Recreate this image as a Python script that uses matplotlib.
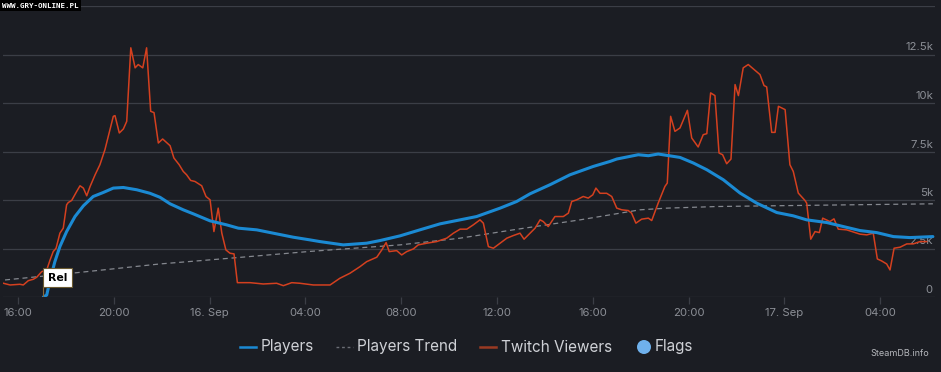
import matplotlib
matplotlib.use("Agg")
import matplotlib.pyplot as plt
from matplotlib.lines import Line2D
from matplotlib.patches import Circle
import matplotlib.transforms as mtransforms

# ---- data (time = hours since 15 Sep 00:00) ----
players_t = [17.06, 17.20, 17.34, 17.54, 17.75, 18.03, 18.38, 18.73, 19.14, 19.56, 19.98, 20.40,
             20.96, 21.51, 21.93, 22.35, 22.90, 23.32, 24.02, 24.71, 25.20, 25.97, 26.80, 27.49,
             28.19, 28.61, 29.58, 30.56, 31.11, 31.95, 32.78, 33.62, 34.46, 35.15, 36.13, 36.82,
             37.38, 38.21, 39.05, 40.02, 40.72, 41.00, 41.90, 42.32, 42.73, 43.64, 44.20, 44.76,
             45.45, 46.15, 46.84, 47.68, 48.37, 48.93, 49.77, 50.46, 51.16, 51.85, 52.55, 53.24, 54.20]
players_v = [0, 103, 878, 1823, 2598, 3373, 4148, 4700, 5181, 5387, 5614, 5645,
             5527, 5346, 5139, 4803, 4494, 4287, 3925, 3719, 3548, 3461, 3254, 3083,
             2944, 2856, 2686, 2774, 2908, 3151, 3461, 3770, 3977, 4148, 4581, 4922,
             5320, 5785, 6301, 6730, 6988, 7112, 7334, 7283, 7370, 7195, 6906, 6560,
             6043, 5356, 4840, 4354, 4184, 3977, 3838, 3631, 3424, 3321, 3114, 3063, 3114]

trend_t = [15.46, 17.75, 21.93, 24.85, 28.19, 31.95, 34.46, 36.67, 39.47, 40.72, 41.97, 43.10,
           45.19, 47.40, 50.74, 54.20]
trend_v = [878, 1162, 1704, 1999, 2350, 2686, 3032, 3461, 3977, 4235, 4494, 4581,
           4664, 4700, 4752, 4803]

twitch_t = [15.39, 15.67, 16.08, 16.22, 16.43, 16.64, 16.78, 16.99, 17.20, 17.34, 17.47, 17.59,
            17.75, 17.89, 18.03, 18.10, 18.24, 18.45, 18.59, 18.73, 18.87, 19.01, 19.22, 19.42,
            19.63, 19.84, 19.98, 20.05, 20.23, 20.40, 20.54, 20.71, 20.89, 21.02, 21.21, 21.37,
            21.54, 21.68, 21.86, 22.04, 22.35, 22.51, 22.73, 22.90, 23.04, 23.21, 23.39, 23.67,
            23.85, 24.02, 24.18, 24.36, 24.51, 24.68, 24.85, 25.02, 25.16, 25.69, 26.24, 26.80,
            27.08, 27.43, 27.77, 28.33, 29.03, 29.44, 29.86, 30.28, 30.56, 30.98, 31.19, 31.37,
            31.50, 31.81, 32.02, 32.23, 32.51, 32.71, 33.07, 33.48, 33.90, 34.18, 34.46, 34.74,
            35.01, 35.29, 35.43, 35.64, 35.85, 36.13, 36.41, 36.68, 36.96, 37.13, 37.38, 37.59,
            37.80, 37.93, 38.14, 38.42, 38.77, 38.98, 39.12, 39.33, 39.60, 39.81, 40.00, 40.13,
            40.30, 40.58, 40.79, 41.00, 41.21, 41.48, 41.62, 41.80, 42.04, 42.32, 42.46, 42.73,
            43.01, 43.11, 43.25, 43.43, 43.64, 43.95, 44.13, 44.40, 44.61, 44.76, 44.92, 45.10,
            45.27, 45.42, 45.59, 45.77, 45.94, 46.08, 46.28, 46.49, 46.70, 46.98, 47.15, 47.26,
            47.47, 47.61, 47.75, 48.03, 48.23, 48.37, 48.58, 48.86, 48.93, 49.10, 49.28, 49.46,
            49.60, 49.90, 50.07, 50.25, 50.60, 51.16, 51.44, 51.71, 51.88, 52.06, 52.27, 52.41,
            52.58, 52.83, 53.11, 53.38, 53.66, 53.94]
twitch_v = [708, 620, 656, 620, 842, 914, 1018, 1307, 1395, 1911, 2340, 2515,
            3290, 3548, 4752, 4871, 4974, 5439, 5733, 5614, 5217, 5697, 6301, 6818,
            7593, 8626, 9313, 9349, 8455, 8662, 9054, 12845, 11812, 11983, 11812, 12845,
            9571, 9504, 7939, 8145, 7799, 7164, 6818, 6472, 6301, 6007, 5955, 5733,
            5181, 5010, 3373, 4581, 3290, 2428, 2257, 2221, 739, 739, 671, 708,
            584, 739, 708, 620, 620, 966, 1224, 1565, 1823, 2051, 2428, 2805,
            2340, 2391, 2169, 2340, 2479, 2686, 2774, 2856, 3032, 3290, 3497, 3497,
            3719, 3977, 3807, 2598, 2515, 2774, 3032, 3166, 3290, 2980, 3290, 3548,
            3977, 3889, 3631, 4148, 4148, 4323, 4922, 5010, 5181, 5098, 5268, 5614,
            5346, 5346, 5181, 4581, 4494, 4457, 4323, 3807, 4013, 4065, 3941, 4840,
            5697, 5873, 9313, 8538, 8713, 9622, 8197, 7732, 8367, 8419, 10521, 10382,
            7422, 7334, 6869, 7112, 10950, 10382, 11812, 11983, 11761, 11466, 10898, 10831,
            8486, 8486, 9829, 9659, 6818, 6472, 5356, 4974, 4840, 2980, 3373, 3321,
            4065, 3889, 4029, 3497, 3461, 3239, 3202, 3290, 1963, 1859, 1704, 1395,
            2515, 2567, 2737, 2737, 2856, 2856]

x_ticks = [16, 20, 24, 28, 32, 36, 40, 44, 48, 52]
x_labels = ['16:00', '20:00', '16. Sep', '04:00', '08:00', '12:00', '16:00', '20:00', '17. Sep', '04:00']
y_ticks = [0, 2500, 5000, 7500, 10000, 12500, 15000]
y_labels = ['0', '2.5k', '5k', '7.5k', '10k', '12.5k', '']
release_t = 17.06

# ---- style ----
BG = '#1b1d23'
GRID = '#3b3e46'
TXT = '#8b8e95'
BLUE = '#1b8ad3'
RED = '#d4401f'
TREND = '#85888f'
LEG = '#cfd1d6'

W, H = 941, 372
fig = plt.figure(figsize=(W / 100, H / 100), dpi=100, facecolor=BG)
ax = fig.add_axes([3 / W, 1 - 297 / H, 932 / W, 291 / H])
ax.set_facecolor(BG)
ax.set_xlim(15.374, 54.288)
ax.set_ylim(0, 15000)
for s in ax.spines.values():
    s.set_visible(False)

for yv in y_ticks:
    ax.axhline(yv, color=GRID, lw=0.9, zorder=1)

# y labels inside right, above gridlines
offs = mtransforms.offset_copy(ax.get_yaxis_transform(), fig=fig, x=-2, y=2, units='dots')
for yv, lab in zip(y_ticks, y_labels):
    if lab:
        ax.text(1.0, yv, lab, transform=offs, ha='right', va='bottom', color=TXT,
                fontsize=8.2, family='Inter', zorder=2)

ax.set_yticks([])
ax.set_xticks(x_ticks)
ax.set_xticklabels(x_labels, family='Inter', fontsize=8.2, color=TXT)
ax.tick_params(axis='x', length=5, width=0.9, color=GRID, pad=3)

ax.plot(trend_t, trend_v, color=TREND, lw=0.9, ls=(0, (4, 3)), zorder=3)
ax.plot(twitch_t, twitch_v, color=RED, lw=1.1, zorder=4)
ax.plot(players_t, players_v, color=BLUE, lw=2.2, zorder=5, solid_capstyle='round')

# release flag
ax.plot([release_t, release_t], [0, 600], color='#8a6a3a', lw=0.8, zorder=6)
ax.annotate('Rel', xy=(release_t, 1000), xytext=(3.2, 0), textcoords='offset points',
            ha='left', va='center', fontsize=7.8, fontweight='bold',
            family='DejaVu Sans', color='black', zorder=7,
            bbox=dict(boxstyle='square,pad=0.4', fc='white', ec='#6b5a30', lw=0.8))

# legend (manual)
ly = 1 - 347 / H
def lx(px):
    return px / W
fs = 11
fig.add_artist(Line2D([lx(240), lx(256)], [ly, ly], color=BLUE, lw=1.8))
fig.text(lx(261), ly, 'Players', color=LEG, fontsize=fs, family='Inter', va='center')
fig.add_artist(Line2D([lx(336), lx(353)], [ly, ly], color='#6b6e75', lw=1.0, ls=(0, (2, 2))))
fig.text(lx(357), ly, 'Players Trend', color=LEG, fontsize=fs, family='Inter', va='center')
fig.add_artist(Line2D([lx(480), lx(496)], [ly, ly], color='#9a3a22', lw=1.8))
fig.text(lx(501), ly, 'Twitch Viewers', color=LEG, fontsize=fs, family='Inter', va='center')
fig.add_artist(Circle((644, (H - 347)), 7, transform=None, fc='#6fb1ec', ec='none'))
fig.text(lx(655), ly, 'Flags', color=LEG, fontsize=fs, family='Inter', va='center')

fig.text(929 / W, 1 - 353 / H, 'SteamDB.info', color='#b5b7bc', fontsize=6.5, family='Inter',
         ha='right', va='center')

# watermark
fig.text(2 / W, 1 - 5.5 / H, 'WWW.GRY-ONLINE.PL', color='white', fontsize=5.4, family='DejaVu Sans Mono',
         fontweight='bold', va='center', ha='left',
         bbox=dict(boxstyle='square,pad=0.3', fc='black', ec='none'))

fig.savefig('out.png', dpi=100, facecolor=BG)
